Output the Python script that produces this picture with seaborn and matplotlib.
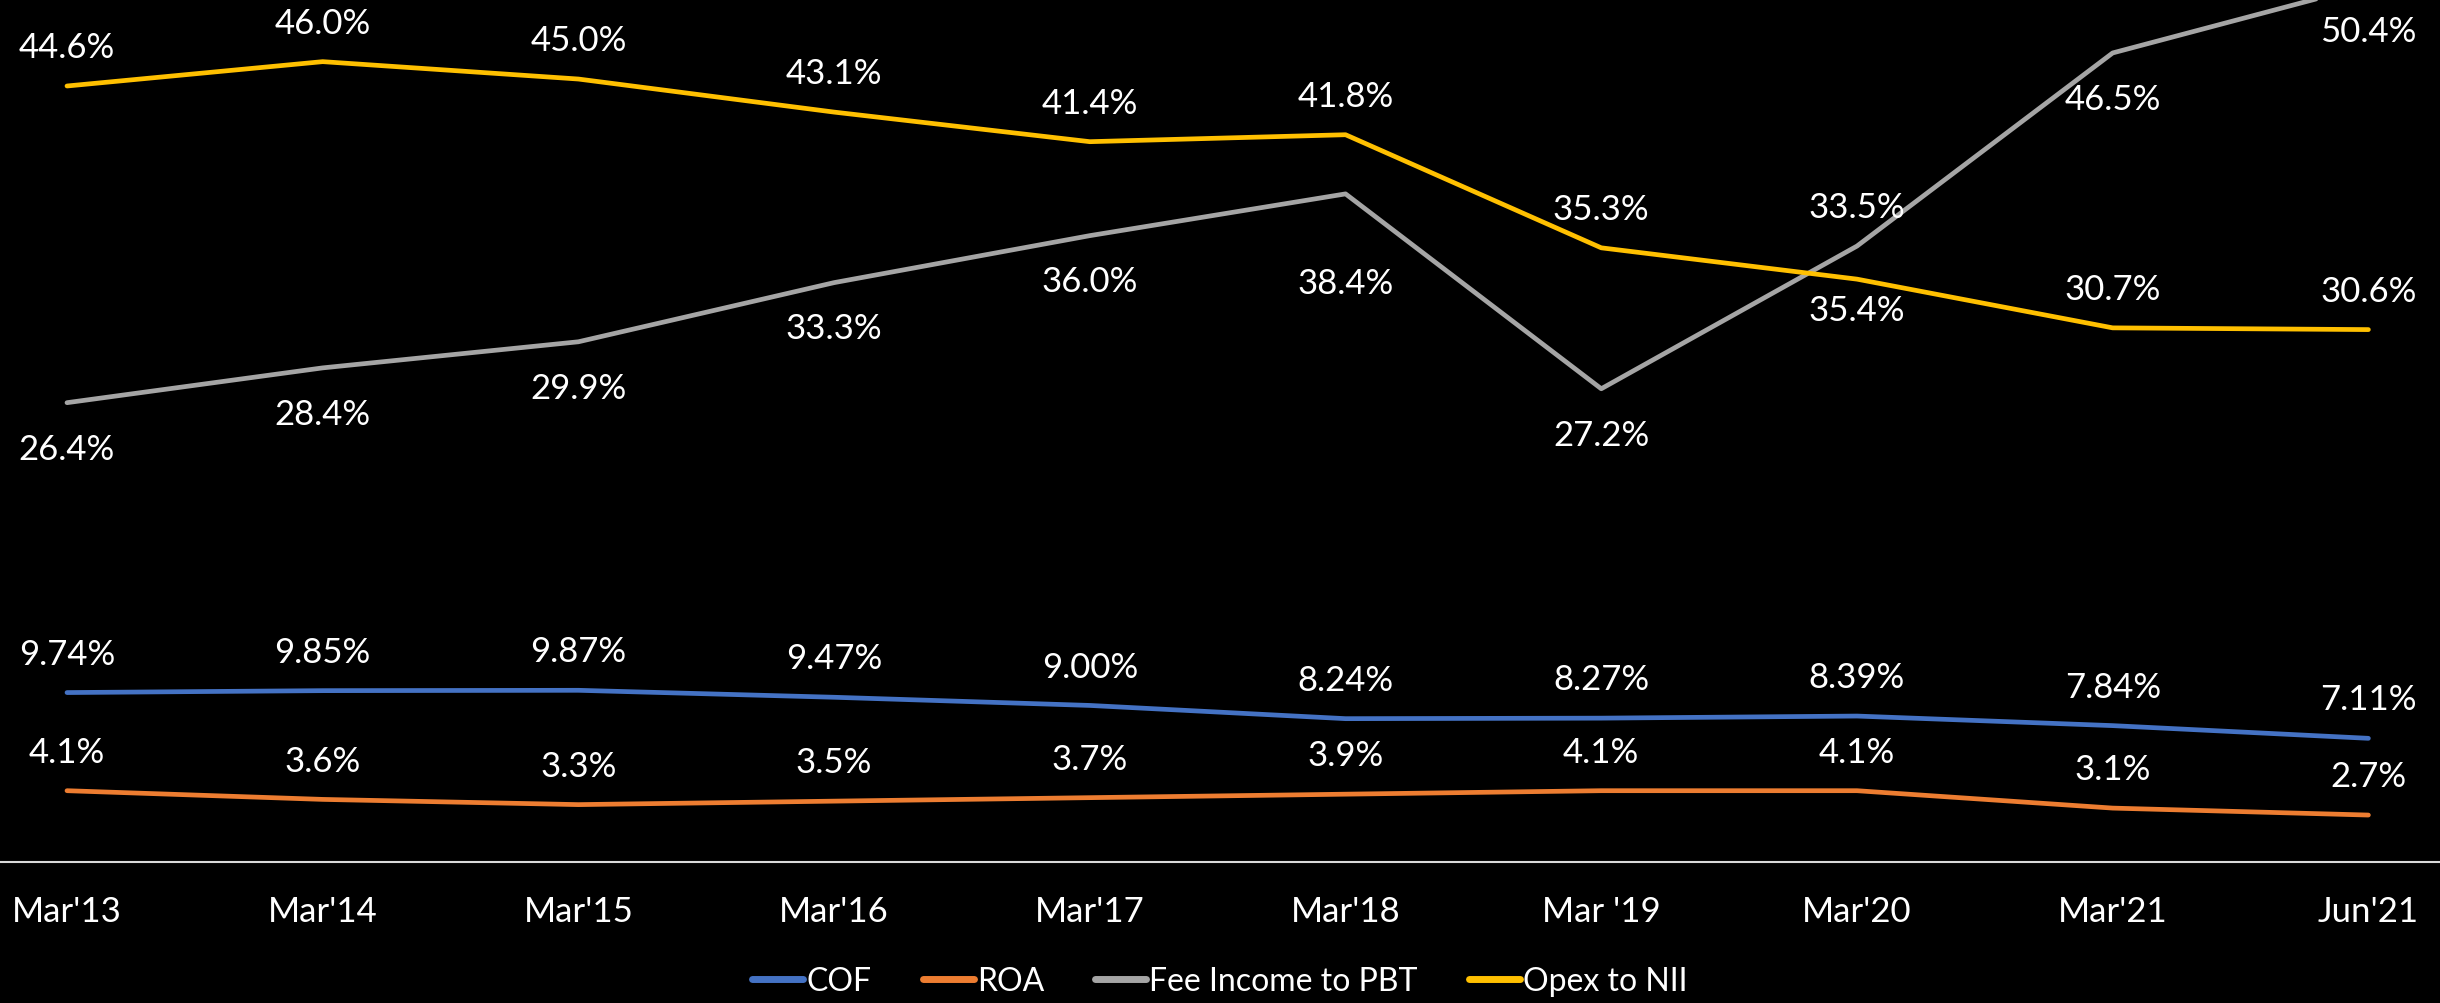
import pandas as pd
import matplotlib.pyplot as plt
import seaborn as sns

periods = ["Mar'13", "Mar'14", "Mar'15", "Mar'16", "Mar'17",
           "Mar'18", "Mar '19", "Mar'20", "Mar'21", "Jun'21"]
cof = [9.74, 9.85, 9.87, 9.47, 9.00, 8.24, 8.27, 8.39, 7.84, 7.11]
roa = [4.1, 3.6, 3.3, 3.5, 3.7, 3.9, 4.1, 4.1, 3.1, 2.7]
fee_pbt = [26.4, 28.4, 29.9, 33.3, 36.0, 38.4, 27.2, 35.4, 46.5, 50.4]
opex_nii = [44.6, 46.0, 45.0, 43.1, 41.4, 41.8, 35.3, 33.5, 30.7, 30.6]

series = ['COF', 'ROA', 'Fee Income to PBT', 'Opex to NII']
colors = ['#4472C4', '#ED7D31', '#A5A5A5', '#FFC000']

# long format for seaborn
rows = []
for name, vals in zip(series, [cof, roa, fee_pbt, opex_nii]):
    for i, v in enumerate(vals):
        rows.append({'idx': i, 'period': periods[i], 'series': name, 'value': v})
df = pd.DataFrame(rows)

sns.set_theme(style='dark', rc={'axes.facecolor': 'black', 'figure.facecolor': 'black'})
plt.rcParams['font.family'] = ['Lato', 'DejaVu Sans']
txt = '#FFFFFF'

fig = plt.figure(figsize=(24.4, 10.04), dpi=100)
ax = fig.add_axes([0, 0.1404, 1, 0.8596])

sns.lineplot(data=df, x='idx', y='value', hue='series', hue_order=series,
             palette=dict(zip(series, colors)), linewidth=3.4, ax=ax,
             legend=False, solid_capstyle='round')

# data labels: above for most, below for fee income, some nudged by hand
fmt = {'COF': '{:.2f}%', 'ROA': '{:.1f}%', 'Fee Income to PBT': '{:.1f}%', 'Opex to NII': '{:.1f}%'}
nudge = {('Fee Income to PBT', 5): -64, ('Fee Income to PBT', 7): -46,
         ('Opex to NII', 7): 52}
for name in series:
    sub = df[df.series == name]
    for _, r in sub.iterrows():
        off = -33 if name == 'Fee Income to PBT' else 28
        off = nudge.get((name, r.idx), off)
        ax.annotate(fmt[name].format(r.value), (r.idx, r.value), xytext=(0, off),
                    textcoords='offset points', ha='center', va='center',
                    color=txt, fontsize=25, annotation_clip=False)

ax.set_xlim(-0.262, 9.28)
ax.set_ylim(0, 49.6)
ax.set_xticks(range(len(periods)))
ax.set_xticklabels(periods, color=txt, fontsize=25)
ax.tick_params(axis='x', length=0, pad=24)
ax.set_yticks([])
ax.set_xlabel('')
ax.set_ylabel('')
ax.grid(False)
for s in ['top', 'left', 'right']:
    ax.spines[s].set_visible(False)
ax.spines['bottom'].set_visible(True)
ax.spines['bottom'].set_color('#D9D9D9')
ax.spines['bottom'].set_linewidth(1.5)

handles = [plt.Line2D([], [], color=c, linewidth=5, solid_capstyle='round') for c in colors]
leg = fig.legend(handles, series, loc='center', bbox_to_anchor=(0.5, 0.022), ncol=4,
                 frameon=False, handlelength=1.6, handletextpad=0.1, columnspacing=1.6,
                 prop={'size': 23})
for t in leg.get_texts():
    t.set_color(txt)

fig.savefig('out.png', dpi=100, facecolor='black')
